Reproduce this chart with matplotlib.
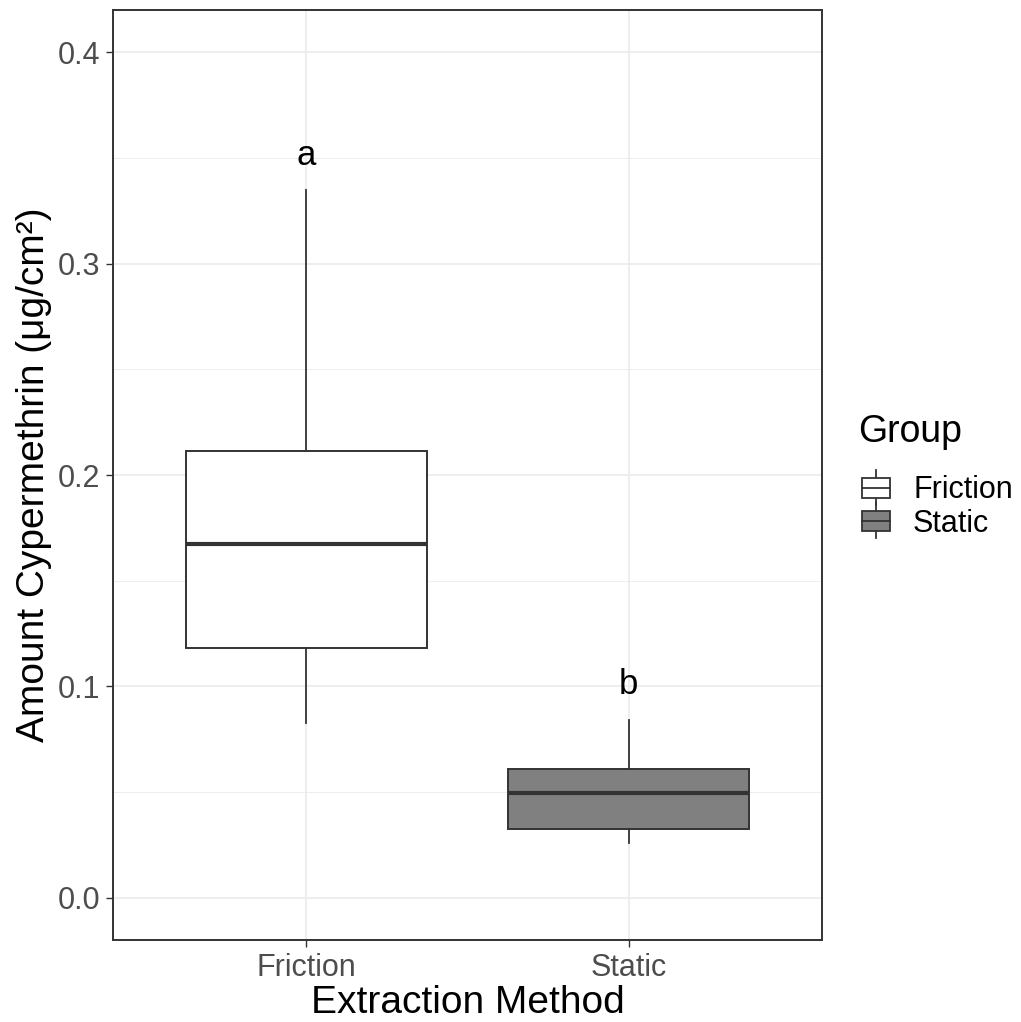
import matplotlib
matplotlib.use("Agg")
import matplotlib.pyplot as plt
from matplotlib.legend_handler import HandlerBase
from matplotlib.patches import Rectangle
from matplotlib.lines import Line2D

plt.rcParams['font.family'] = ['Liberation Sans', 'DejaVu Sans']

groups = ["Friction", "Static"]
whislo = [0.0827, 0.0260]
q1 = [0.1182, 0.0326]
med = [0.1674, 0.0496]
q3 = [0.2113, 0.0610]
whishi = [0.3348, 0.0842]
fills = ["#FFFFFF", "#808080"]
letters = ["a", "b"]
letter_y = [0.351, 0.101]

W, H = 1021, 1022
fig = plt.figure(figsize=(W / 100, H / 100), dpi=100)
ax = fig.add_axes([113 / W, 1 - 940 / H, (822 - 113) / W, (940 - 10) / H])

stats = []
for i, g in enumerate(groups):
    stats.append(dict(label=g, whislo=whislo[i], q1=q1[i], med=med[i], q3=q3[i], whishi=whishi[i], fliers=[]))

edge = "#333333"
bp = ax.bxp(stats, positions=[1, 2], widths=0.75, patch_artist=True, showcaps=False,
            boxprops=dict(edgecolor=edge, linewidth=1.4),
            whiskerprops=dict(color=edge, linewidth=1.3),
            medianprops=dict(color=edge, linewidth=3),
            zorder=3)
for p, c in zip(bp['boxes'], fills):
    p.set_facecolor(c)

for i in range(2):
    ax.text(i + 1, letter_y[i], letters[i], ha='center', va='center', fontsize=25, color='black', zorder=4)

ax.set_xlim(0.4, 2.6)
ax.set_ylim(-0.0199, 0.4199)
ax.set_xticks([1, 2])
ax.set_xticklabels(groups)
ax.set_yticks([0.0, 0.1, 0.2, 0.3, 0.4])
ax.set_yticklabels(["0.0", "0.1", "0.2", "0.3", "0.4"])
ax.set_yticks([0.05, 0.15, 0.25, 0.35], minor=True)
ax.set_xticks([], minor=True)
ax.grid(True, which='major', color='#EBEBEB', linewidth=1.2, zorder=0)
ax.grid(True, which='minor', axis='y', color='#EBEBEB', linewidth=0.6, zorder=0)
ax.set_axisbelow(True)
ax.tick_params(axis='both', which='major', labelsize=22, labelcolor='#4D4D4D', color='#333333', length=5, width=1)
ax.tick_params(axis='x', which='major', pad=4)
ax.tick_params(axis='y', which='major', pad=4)
ax.tick_params(axis='y', which='minor', length=0)
for s in ax.spines.values():
    s.set_color('#333333')
    s.set_linewidth(1.4)

ax.set_xlabel("Extraction Method", fontsize=28, color='black', labelpad=2)
ax.set_ylabel("Amount Cypermethrin (μg/cm²)", fontsize=28, color='black', labelpad=4)


class BoxHandler(HandlerBase):
    def __init__(self, fill):
        super().__init__()
        self.fill = fill

    def create_artists(self, legend, orig_handle, xdescent, ydescent, width, height, fontsize, trans):
        cx = width / 2 - xdescent
        bw = width
        r = Rectangle((cx - bw / 2, -ydescent), bw, height,
                      facecolor=self.fill, edgecolor=edge, linewidth=1.3, transform=trans)
        m = Line2D([cx - bw / 2, cx + bw / 2], [-ydescent + height * 0.5] * 2, color=edge, linewidth=1.3, transform=trans)
        w1 = Line2D([cx, cx], [-ydescent - height * 0.35, -ydescent], color=edge, linewidth=1.3, transform=trans)
        w2 = Line2D([cx, cx], [-ydescent + height, -ydescent + height * 1.35], color=edge, linewidth=1.3, transform=trans)
        return [w1, w2, r, m]


fig.text(858 / W, 1 - 432 / H, "Group", fontsize=27, ha='left', va='center', color='black')

h1 = Rectangle((0, 0), 1, 1)
h2 = Rectangle((0, 0), 1, 1)
leg = fig.legend([h1, h2], groups, loc='center left',
                 bbox_to_anchor=(862 / W, 1 - 507 / H), frameon=False,
                 fontsize=22,
                 handler_map={h1: BoxHandler(fills[0]), h2: BoxHandler(fills[1])},
                 handlelength=0.92, handleheight=0.65, handletextpad=0.75, labelspacing=0.1,
                 borderpad=0, borderaxespad=0)

fig.savefig("out.png", dpi=100, facecolor='white')
